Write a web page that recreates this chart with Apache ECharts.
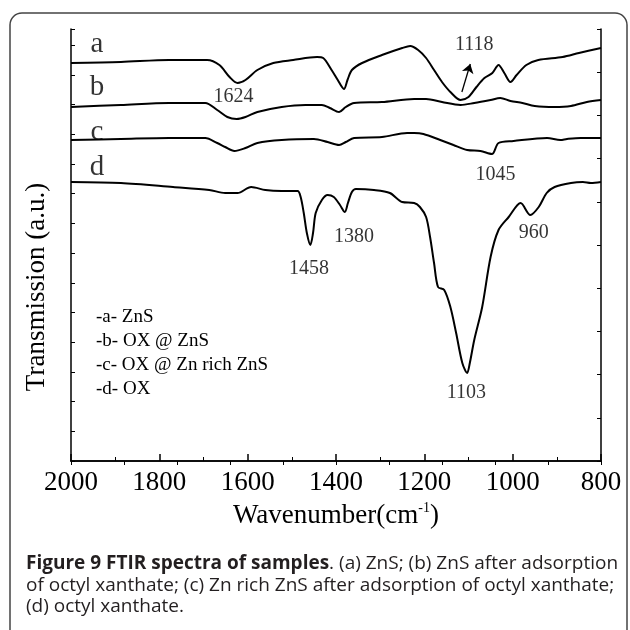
<!DOCTYPE html>
<html>
<head>
<meta charset="utf-8">
<script src="https://cdn.jsdelivr.net/npm/echarts@6/dist/echarts.min.js"></script>
<style>
  html, body { margin: 0; padding: 0; background: #fff; }
  #chart { width: 630px; height: 630px; }
</style>
</head>
<body>
<div id="chart"></div>
<script>
// wavenumber (cm-1), transmission (a.u.)
const curveA = [
  [2000, 398], [1887, 399], [1778, 401], [1692, 401], [1664, 396], [1641, 384],
  [1623, 378], [1605, 381], [1578, 391], [1542, 398], [1497, 401], [1443, 404],
  [1429, 403], [1410, 391], [1396, 381], [1382, 372], [1374, 381], [1364, 391],
  [1341, 398], [1296, 406], [1250, 413], [1232, 415], [1214, 411], [1196, 403],
  [1178, 391], [1160, 379], [1141, 369], [1118, 361], [1100, 364], [1082, 374],
  [1064, 383], [1046, 388], [1032, 396], [1019, 388], [1005, 379], [991, 386],
  [969, 396], [942, 401], [887, 404], [850, 408], [800, 413]
];
const curveB = [
  [2000, 354], [1887, 356], [1778, 358], [1696, 358], [1669, 351], [1646, 344],
  [1625, 342], [1605, 344], [1578, 349], [1523, 354], [1469, 356], [1432, 356],
  [1414, 353], [1393, 349], [1378, 354], [1359, 358], [1296, 359], [1223, 362],
  [1196, 362], [1160, 359], [1118, 356], [1087, 358], [1050, 361], [1028, 363],
  [1005, 360], [978, 358], [950, 355], [905, 354], [868, 355], [832, 359], [800, 361]
];
const curveC = [
  [2000, 321], [1887, 322], [1778, 323], [1696, 323], [1669, 318], [1651, 314],
  [1630, 310], [1605, 313], [1578, 318], [1523, 321], [1450, 322], [1419, 319],
  [1393, 316], [1378, 319], [1359, 323], [1296, 324], [1239, 328], [1223, 328],
  [1202, 327], [1164, 321], [1134, 316], [1103, 311], [1073, 310], [1047, 307],
  [1032, 318], [998, 320], [922, 323], [892, 321], [877, 322], [846, 323], [800, 323]
];
const curveD = [
  [2000, 279], [1887, 278], [1769, 274], [1687, 271], [1651, 268], [1623, 268],
  [1592, 274], [1560, 271], [1523, 270], [1487, 270], [1480, 264], [1473, 248],
  [1466, 228], [1458, 216], [1452, 228], [1446, 248], [1432, 261], [1419, 266],
  [1405, 264], [1391, 256], [1380, 249], [1373, 258], [1364, 269], [1355, 272],
  [1314, 271], [1278, 268], [1250, 259], [1223, 258], [1210, 254], [1196, 244],
  [1187, 224], [1178, 198], [1169, 174], [1155, 171], [1141, 154], [1128, 128],
  [1114, 98], [1103, 88], [1097, 98], [1087, 121], [1069, 154], [1050, 204],
  [1032, 231], [1009, 244], [982, 258], [960, 246], [941, 254], [923, 268],
  [905, 274], [868, 278], [841, 279], [823, 278], [800, 279]
];

const curveNames = ['a', 'b', 'c', 'd'];
const curveNameAt = [[1941, 417], [1941, 374], [1941, 329], [1941, 294]];

const peakNames = ['1624', '1118', '1045', '1458', '1380', '960', '1103'];
const peakAt = [[1632, 364], [1087, 416], [1039, 286], [1461, 192], [1359, 224], [952, 228], [1105, 68]];

const arrow118 = [[1115, 369], [1096, 397]];

const legendLines = ['-a- ZnS', '-b- OX @ ZnS', '-c- OX @ Zn rich ZnS', '-d- OX'];

const xTicks = [2000, 1800, 1600, 1400, 1200, 1000, 800];

const serif = '"Liberation Serif", "Times New Roman", serif';
const sans = '"Open Sans", "Noto Sans", sans-serif';

const chart = echarts.init(document.getElementById('chart'));

function lineSeries(data) {
  return {
    type: 'line',
    data: data,
    showSymbol: false,
    smooth: 0.3,
    silent: true,
    lineStyle: { color: '#000', width: 2 },
    z: 3,
  };
}

function textSeries(names, coords, size) {
  return {
    type: 'scatter',
    symbolSize: 0,
    silent: true,
    data: names.map((n, i) => ({ name: n, value: coords[i] })),
    label: {
      show: true,
      position: 'inside',
      formatter: (p) => p.name,
      color: '#000',
      fontFamily: serif,
      fontSize: size,
    },
    z: 4,
  };
}

const seriesA = lineSeries(curveA);
seriesA.markLine = {
  silent: true,
  symbol: ['none', 'arrow'],
  symbolSize: 9,
  label: { show: false },
  lineStyle: { color: '#000', width: 1.3, type: 'solid' },
  data: [[{ coord: arrow118[0] }, { coord: arrow118[1] }]],
};

const option = {
  animation: false,
  backgroundColor: '#fff',
  grid: { left: 71, top: 29, width: 530, height: 432 },
  xAxis: [
    {
      type: 'value',
      min: 800,
      max: 2000,
      interval: 200,
      inverse: true,
      position: 'bottom',
      axisLine: { show: true, lineStyle: { color: '#000', width: 1.5 } },
      axisTick: { inside: true, length: 7, lineStyle: { color: '#000', width: 1.5 } },
      minorTick: { show: true, splitNumber: 2, length: 4, lineStyle: { color: '#000', width: 1 } },
      axisLabel: {
        color: '#000',
        fontFamily: serif,
        fontSize: 27,
        margin: 8,
        formatter: (v) => (xTicks.includes(v) ? String(v) : ''),
      },
      splitLine: { show: false },
    },
    {
      type: 'value',
      min: 800,
      max: 2000,
      interval: 120,
      inverse: true,
      position: 'top',
      axisLine: { show: true, lineStyle: { color: '#000', width: 1.5 } },
      axisTick: { inside: true, length: 4, lineStyle: { color: '#000', width: 1 } },
      axisLabel: { show: false },
      splitLine: { show: false },
    },
  ],
  yAxis: [
    {
      type: 'value',
      min: 0,
      max: 432,
      interval: 29.7,
      position: 'left',
      axisLine: { show: true, lineStyle: { color: '#000', width: 1.5 } },
      axisTick: { show: true, inside: true, length: 4, lineStyle: { color: '#000', width: 1 } },
      axisLabel: { show: false },
      splitLine: { show: false },
    },
    {
      type: 'value',
      min: 0,
      max: 432,
      interval: 43.2,
      position: 'right',
      axisLine: { show: true, lineStyle: { color: '#000', width: 1.5 } },
      axisTick: { show: true, inside: true, length: 4, lineStyle: { color: '#000', width: 1 } },
      axisLabel: { show: false },
      splitLine: { show: false },
    },
  ],
  series: [
    seriesA,
    lineSeries(curveB),
    lineSeries(curveC),
    lineSeries(curveD),
    textSeries(curveNames, curveNameAt, 29),
    textSeries(peakNames, peakAt, 20),
  ],
  graphic: [
    // outer figure frame
    {
      type: 'rect',
      shape: { x: 10, y: 13, width: 617, height: 640, r: 12 },
      style: { fill: 'none', stroke: '#444', lineWidth: 1.5 },
      silent: true,
    },
    {
      type: 'text',
      x: 37,
      y: 287,
      rotation: Math.PI / 2,
      style: {
        text: 'Transmission (a.u.)',
        fontFamily: serif,
        fontSize: 27,
        fill: '#000',
        align: 'center',
        verticalAlign: 'middle',
      },
    },
    {
      type: 'text',
      x: 336,
      y: 516,
      style: {
        text: '{t|Wavenumber(cm}{s|-1}{t|)}',
        align: 'center',
        verticalAlign: 'middle',
        rich: {
          t: { fontFamily: serif, fontSize: 27, fill: '#000', lineHeight: 30 },
          s: { fontFamily: serif, fontSize: 14, fill: '#000', verticalAlign: 'top', lineHeight: 30, padding: [0, 0, 12, 0] },
        },
      },
    },
    {
      type: 'group',
      x: 96,
      y: 317,
      children: legendLines.map((t, i) => ({
        type: 'text',
        y: i * 24,
        style: {
          text: t,
          fontFamily: serif,
          fontSize: 19,
          fill: '#000',
          verticalAlign: 'middle',
        },
      })),
    },
    {
      type: 'text',
      x: 26,
      y: 564,
      style: {
        text: '{b|Figure 9 FTIR spectra of samples}{n|. (a) ZnS; (b) ZnS after adsorption}',
        verticalAlign: 'middle',
        rich: {
          b: { fontFamily: sans, fontSize: 19, fontWeight: 'bold', fill: '#231f20' },
          n: { fontFamily: sans, fontSize: 19, fill: '#231f20' },
        },
      },
    },
    {
      type: 'text',
      x: 26,
      y: 586,
      style: {
        text: 'of octyl xanthate; (c) Zn rich ZnS after adsorption of octyl xanthate;',
        fontFamily: sans,
        fontSize: 19,
        fill: '#231f20',
        verticalAlign: 'middle',
      },
    },
    {
      type: 'text',
      x: 26,
      y: 607,
      style: {
        text: '(d) octyl xanthate.',
        fontFamily: sans,
        fontSize: 19,
        fill: '#231f20',
        verticalAlign: 'middle',
      },
    },
  ],
};

chart.setOption(option);
</script>
</body>
</html>
